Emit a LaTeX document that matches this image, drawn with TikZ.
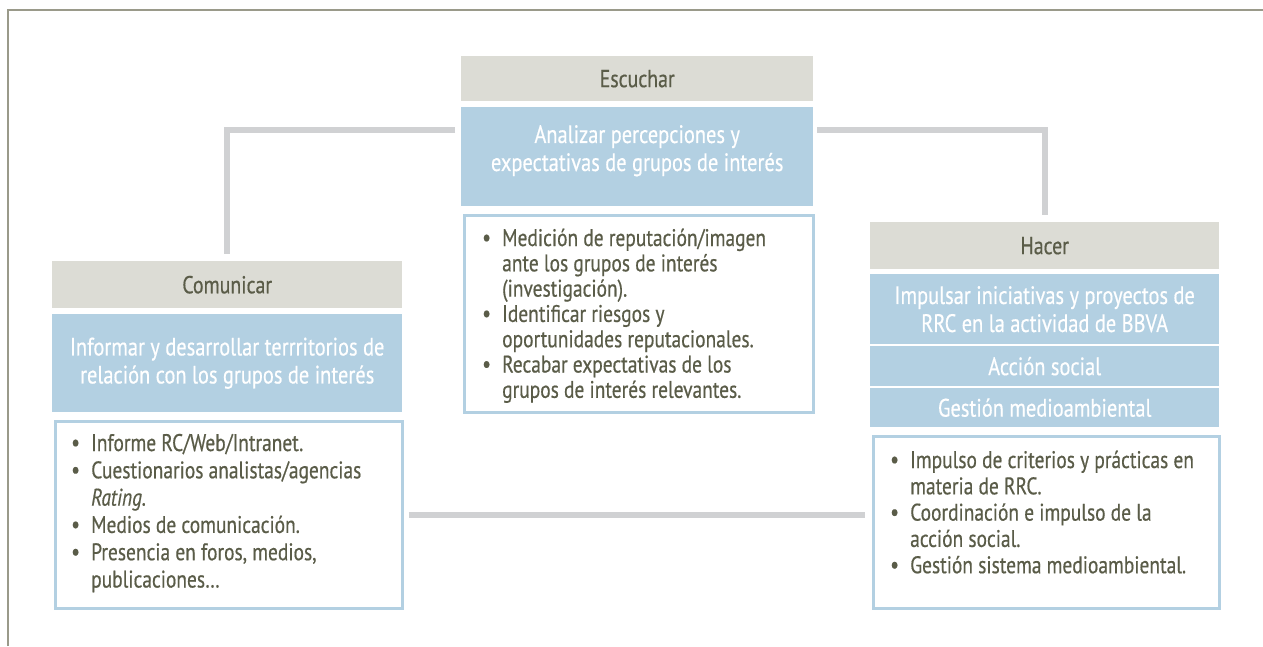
\documentclass[tikz,border=0pt]{standalone}
\usepackage{fontspec}
\setmainfont{PT Sans}[FakeStretch=0.81, FakeBold=0.5]
\usetikzlibrary{calc}
\definecolor{hdr}{HTML}{DCDCD5}
\definecolor{blu}{HTML}{B3D0E2}
\definecolor{txt}{HTML}{5A5C48}
\definecolor{cnn}{HTML}{D0D1D3}
\definecolor{frm}{HTML}{9A9A8A}
\newcommand{\fsz}{\fontsize{24}{25.5}\selectfont}
\newcommand{\fsh}{\fontsize{24.5}{26}\selectfont}
\newcommand{\fsb}{\fontsize{25.2}{28}\selectfont}
\newcommand{\bul}{\raisebox{0.5pt}{\fontsize{24}{24}\selectfont\textbullet}}
\begin{document}
\begin{tikzpicture}[x=1pt,y=-1pt,
  hdrbox/.style={fill=hdr, text=txt, anchor=north west, inner sep=0pt, font=\fsh},
  blubox/.style={fill=blu, text=white, anchor=north west, inner sep=0pt, align=center, font=\fsb},
  blutext/.style={text=white, inner sep=0pt, align=center, font=\fsb},
  listbox/.style={draw=blu, line width=3pt, fill=white, anchor=north west, inner sep=0pt},
  listtxt/.style={text=txt, anchor=base west, inner sep=0pt},
  connector/.style={draw=cnn, line width=6pt},
  framel/.style={draw=frm, line width=1.5pt}]
\useasboundingbox (0,0) rectangle (1263,646);
\draw[framel] (8,646) -- (8,10) -- (1263,10);

% Escuchar
\node[hdrbox, minimum width=352pt, minimum height=45pt] (escH) at (461,56) {Escuchar};
\node[blubox, minimum width=352pt, minimum height=99pt] (escB) at (461,107) {};
\node[blutext] (escBt) at ($(escB.center)+(0,-6)$) {Analizar percepciones y\\expectativas de grupos de interés};
\node[listbox, minimum width=349pt, minimum height=197pt] (escL) at (462.5,213.5) {};
\node[listtxt, font=\fontsize{24}{25.3}\selectfont] (escT) at (482,246) {\begin{tabular}[t]{@{}p{20pt}@{}l@{}}
\bul & Medición de reputación/imagen\\
 & ante los grupos de interés\\
 & (investigación).\\
\bul & Identificar riesgos y\\
 & oportunidades reputacionales.\\
\bul & Recabar expectativas de los\\
 & grupos de interés relevantes.
\end{tabular}};

% Comunicar
\node[hdrbox, minimum width=350pt, minimum height=47pt] (comH) at (52,261) {Comunicar};
\node[blubox, minimum width=350pt, minimum height=98pt] (comB) at (52,314) {Informar y desarrollar terrritorios de\\relación con los grupos de interés};
\node[listbox, minimum width=347pt, minimum height=187pt] (comL) at (53.5,419.5) {};
\node[listtxt, font=\fontsize{24}{27.3}\selectfont] (comT) at (71,451) {\begin{tabular}[t]{@{}p{20pt}@{}l@{}}
\bul & Informe RC/Web/Intranet.\\
\bul & Cuestionarios analistas/agencias\\
 & \textit{Rating.}\\
\bul & Medios de comunicación.\\
\bul & Presencia en foros, medios,\\
 & publicaciones…
\end{tabular}};

% Hacer
\node[hdrbox, minimum width=349pt, minimum height=47pt] (hacH) at (870,222) {Hacer};
\node[blubox, minimum width=349pt, minimum height=70pt] (hacB1) at (870,274) {Impulsar iniciativas y proyectos de\\RRC en la actividad de BBVA};
\node[blubox, minimum width=349pt, minimum height=40pt] (hacB2) at (870,346) {Acción social};
\node[blubox, minimum width=349pt, minimum height=39pt] (hacB3) at (870,388) {Gestión medioambiental};
\node[listbox, minimum width=346pt, minimum height=172pt] (hacL) at (871.5,434.5) {};
\node[listtxt, font=\fontsize{24}{26.3}\selectfont] (hacT) at (890,468) {\begin{tabular}[t]{@{}p{20pt}@{}l@{}}
\bul & Impulso de criterios y prácticas en\\
 & materia de RRC.\\
\bul & Coordinación e impulso de la\\
 & acción social.\\
\bul & Gestión sistema medioambiental.
\end{tabular}};

% connectors
\draw[connector] ($(escB.north west)+(-6,23)$) -| ($(comH.north)+(0,-7)$);
\draw[connector] ($(escB.north east)+(4,23)$) -| ($(hacH.north)+(0,-7)$);
\draw[connector] ($(comL.east)+(5,0)$) -- ($(comL.east -| hacL.west)+(-7,0)$);
\end{tikzpicture}
\end{document}
